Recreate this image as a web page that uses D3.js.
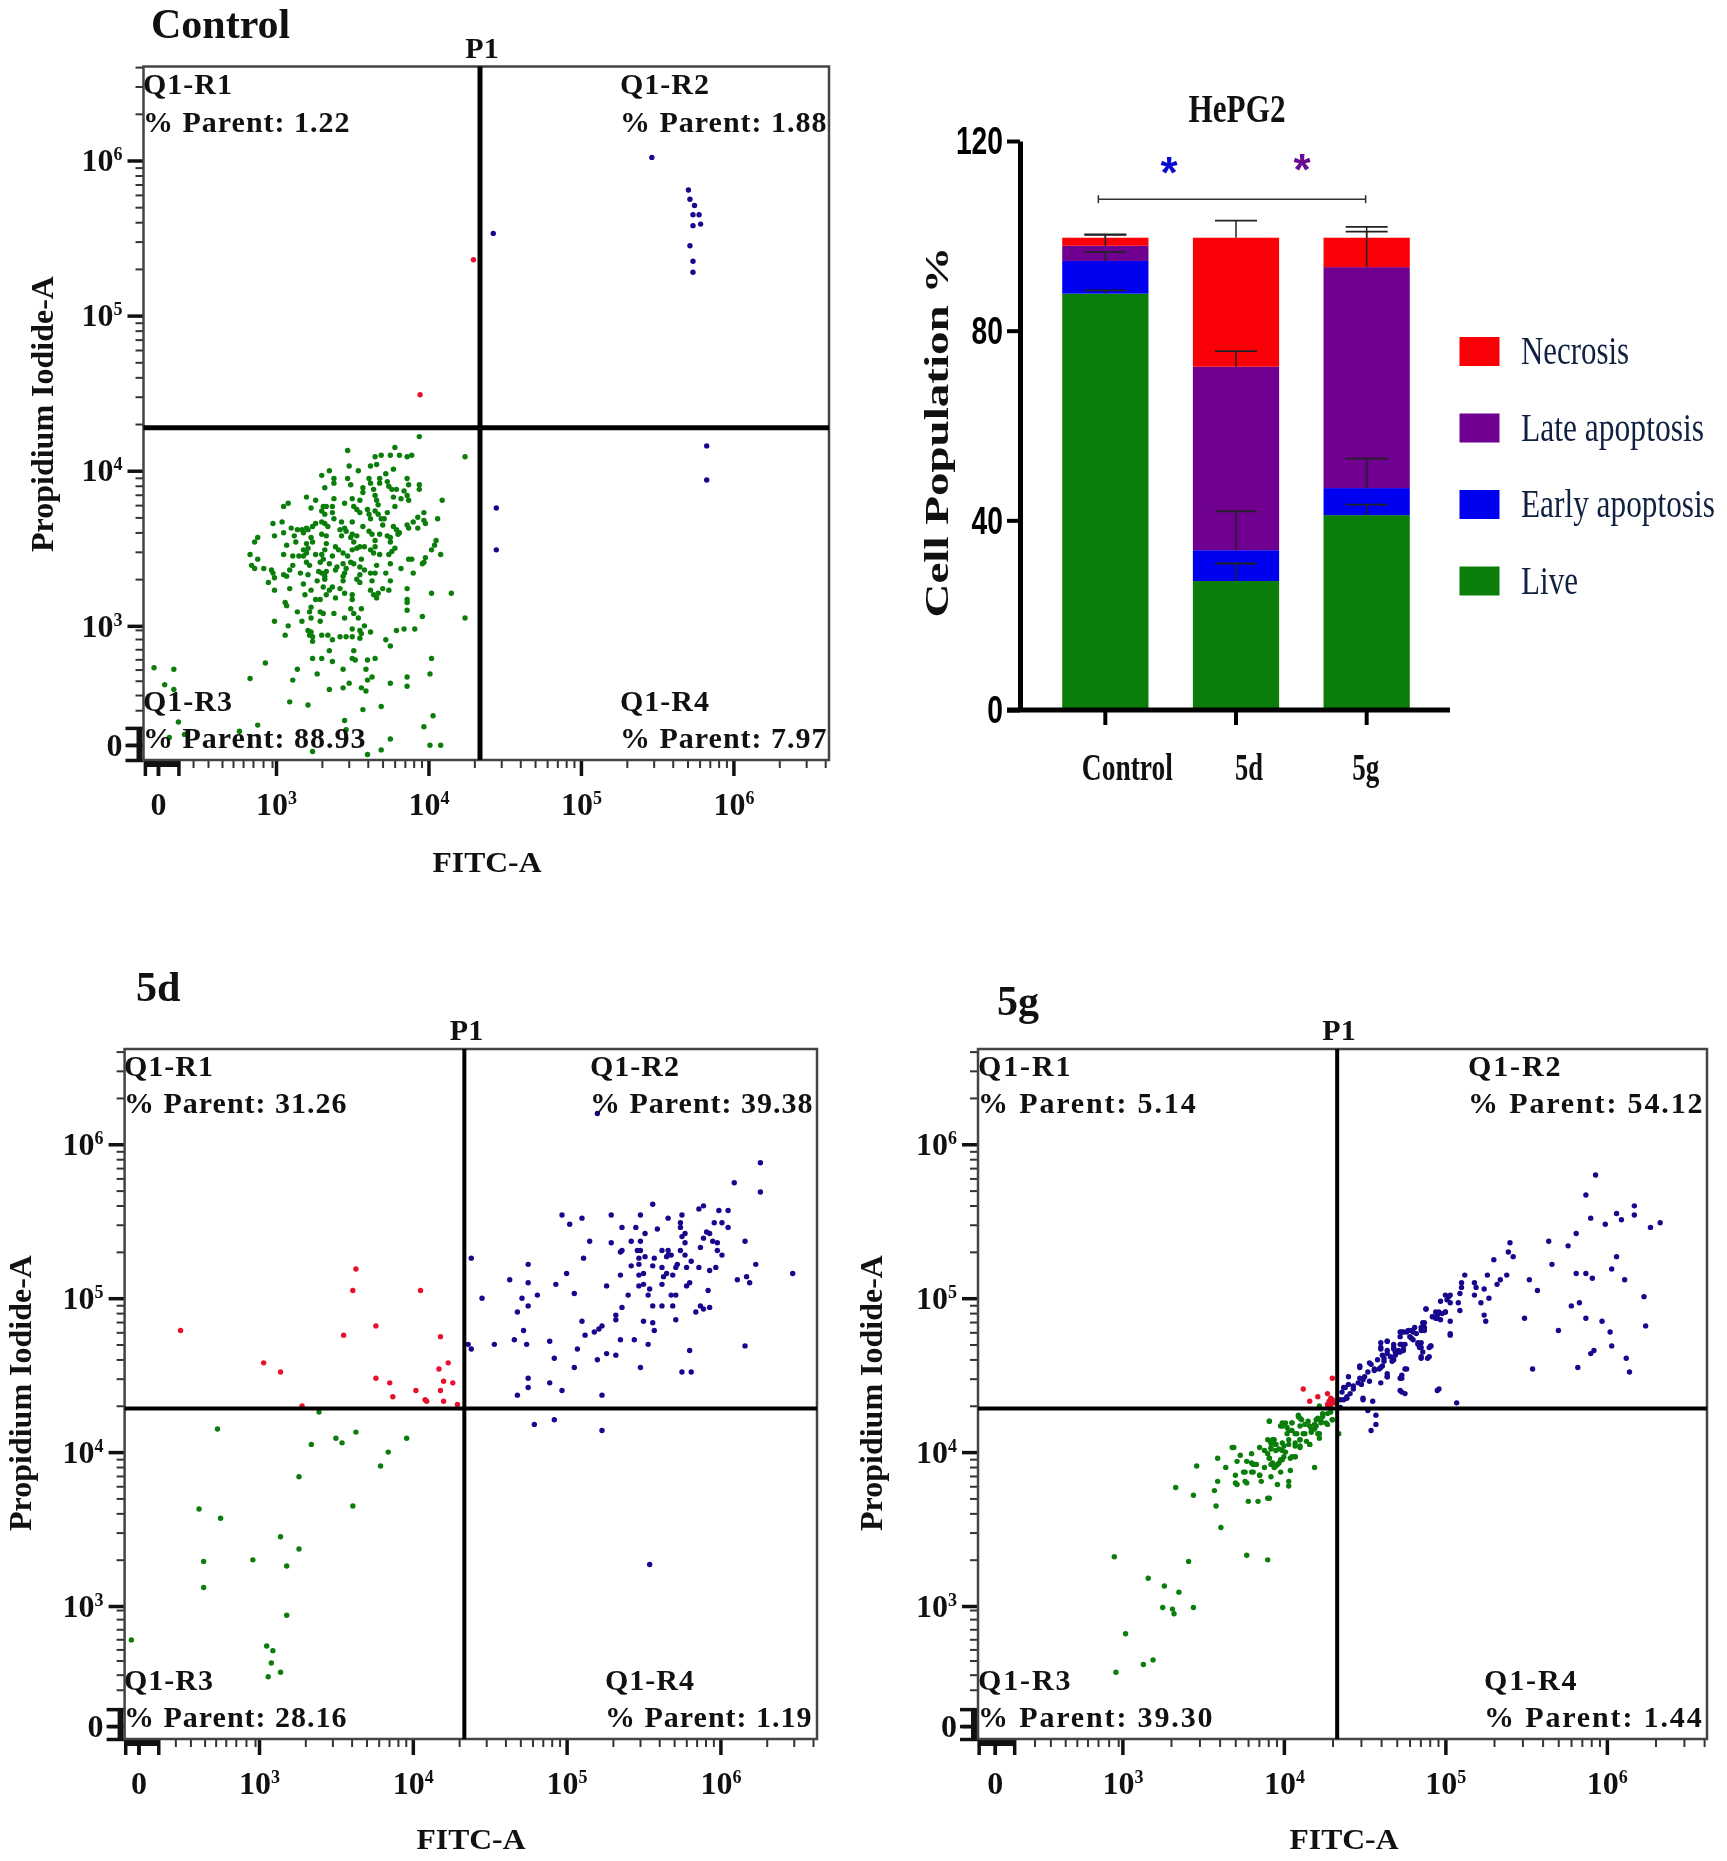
<!DOCTYPE html>
<html>
<head>
<meta charset="utf-8">
<script src="https://cdnjs.cloudflare.com/ajax/libs/d3/7.8.5/d3.min.js"></script>
<style>
	body {margin:0; background:white;}
	svg {filter:blur(0.5px);}
	text {font-family:"Liberation Serif",serif; font-weight:bold; fill:#111;}
</style>
</head>
<body>
<div id="chart"></div>
<script>

// Data: flow cytometry events, [FITC-A, Propidium Iodide-A], in decades on the biexponential axes (3 = 10^3)

var controlLive = [[3.94,4.22],[4.24,4.09],[3.47,4.13],[3.78,4.15],[3.69,4.10],[3.65,4.09],[3.75,4.10],[3.81,4.10],[3.86,4.09],[3.89,4.10],
	[3.48,4.03],[3.62,4.03],[3.66,4.04],[3.77,4.01],[3.72,3.98],[3.54,4.00],[3.35,4.00],[3.30,3.97],
	[3.38,3.95],[3.38,3.92],[3.47,3.95],[3.49,3.91],[3.61,3.95],[3.62,3.92],[3.68,3.95],[3.68,3.92],[3.73,3.93],[3.74,3.90],[3.76,3.88],[3.86,3.95],[3.87,3.91],[3.94,3.91],[3.94,3.88],[3.32,3.89],
	[3.57,3.89],[3.57,3.86],[3.64,3.88],[3.65,3.84],[3.66,3.81],[3.67,3.78],[3.79,3.88],[3.84,3.87],[3.86,3.84],[3.77,3.83],[3.82,3.82],[3.87,3.81],[3.20,3.83],[4.09,3.81],[3.26,3.81],[3.38,3.82],[3.45,3.79],[3.50,3.82],[3.55,3.81],
	[3.08,3.79],[3.05,3.77],[3.23,3.76],[3.31,3.77],[3.33,3.77],[3.37,3.77],[3.30,3.74],[3.32,3.72],[3.37,3.73],[3.38,3.69],[3.51,3.77],[3.53,3.75],[3.55,3.73],[3.60,3.75],[3.61,3.72],[3.62,3.69],[3.65,3.74],[3.67,3.72],[3.69,3.69],[3.73,3.73],[3.71,3.69],[3.70,3.65],[3.78,3.77],[3.97,3.73],[3.97,3.68],[3.93,3.70],[4.06,3.69],
	[3.04,3.67],[2.98,3.66],[3.30,3.67],[3.26,3.66],[3.24,3.64],[3.32,3.66],[3.34,3.64],[3.43,3.67],[3.50,3.67],[3.45,3.63],[3.57,3.64],[3.86,3.65],[3.90,3.67],[3.93,3.63],[3.98,3.66],[3.77,3.64],[3.79,3.62],[3.81,3.60],[3.87,3.63],
	[3.05,3.60],[2.99,3.58],[3.10,3.63],[3.14,3.62],[3.17,3.62],[3.20,3.63],[3.12,3.58],[3.13,3.54],[3.18,3.60],[3.21,3.62],[3.23,3.57],[3.30,3.59],[3.33,3.58],[3.42,3.62],[3.46,3.61],[3.50,3.59],[3.53,3.58],[3.43,3.58],[3.49,3.57],[3.61,3.61],[3.63,3.59],[3.68,3.59],[3.73,3.58],[3.75,3.57],[3.80,3.59],
	[2.88,3.57],[2.86,3.54],[3.07,3.52],[3.20,3.53],[3.21,3.50],[3.18,3.49],[3.24,3.54],[3.33,3.53],[3.32,3.49],[3.39,3.51],[3.41,3.49],[3.51,3.54],[3.55,3.51],[3.58,3.51],[3.62,3.49],[3.65,3.51],[3.65,3.55],[3.75,3.54],[3.78,3.50],[3.76,3.48],[3.74,3.46],[4.05,3.55],[4.04,3.52],[4.02,3.49],
	[2.83,3.46],[3.05,3.46],[3.11,3.45],[3.15,3.45],[3.18,3.45],[3.20,3.47],[3.26,3.46],[3.30,3.46],[3.37,3.45],[3.31,3.43],[3.44,3.47],[3.47,3.45],[3.50,3.49],[3.53,3.50],[3.64,3.47],[3.68,3.46],[3.87,3.43],[3.89,3.43],[4.08,3.46],[3.98,3.44],[3.97,3.41],[3.96,3.40],
	[2.88,3.43],[2.84,3.39],[2.86,3.37],[2.92,3.37],[2.97,3.36],[2.98,3.34],[2.99,3.31],[3.05,3.33],[3.07,3.32],[3.11,3.39],[3.09,3.36],[3.16,3.34],[3.20,3.41],[3.22,3.39],[3.29,3.41],[3.35,3.40],[3.40,3.38],[3.39,3.36],[3.49,3.41],[3.51,3.40],[3.44,3.40],[3.56,3.43],[3.55,3.38],[3.58,3.36],[3.62,3.34],[3.65,3.34],[3.66,3.39],[3.75,3.40],[3.82,3.37],[3.90,3.34],[3.72,3.34],
	[3.21,3.33],[3.28,3.35],[3.30,3.34],[3.33,3.35],[3.32,3.32],[3.32,3.30],[3.46,3.37],[3.44,3.32],[3.55,3.33],[3.45,3.34],[2.95,3.28],
	[2.99,3.23],[3.09,3.24],[3.18,3.27],[3.19,3.20],[3.23,3.23],[3.27,3.29],[3.31,3.25],[3.37,3.25],[3.35,3.23],[3.33,3.20],[3.44,3.29],[3.42,3.24],[3.45,3.21],[3.50,3.20],[3.50,3.17],[3.39,3.18],[3.55,3.28],[3.53,3.30],[3.63,3.29],[3.62,3.23],[3.64,3.20],[3.67,3.21],[3.66,3.18],[3.70,3.24],[3.74,3.23],[3.75,3.29],[3.86,3.24],[3.86,3.17],[3.86,3.10],[3.86,3.15],[4.02,3.21],[4.15,3.21],
	[3.06,3.15],[3.07,3.13],[3.26,3.17],[3.29,3.17],[3.23,3.12],[3.22,3.09],[3.14,3.09],[3.29,3.09],[3.31,3.08],[3.38,3.08],[3.49,3.11],[3.51,3.08],[3.56,3.11],[3.54,3.05],[3.45,3.05],[3.17,3.03],[3.23,3.05],[3.29,3.03],[2.99,3.03],[3.08,3.00],[3.96,3.06],[4.24,3.05],
	[3.55,2.97],[3.58,3.00],[3.62,2.96],[3.56,2.95],[3.55,2.92],[3.46,2.93],[3.50,2.93],[3.42,2.93],[3.50,2.98],[3.21,2.97],[3.23,2.96],[3.22,2.94],[3.24,2.93],[3.30,2.94],[3.34,2.94],[3.37,2.91],[3.24,2.90],[3.06,2.94],[3.79,2.97],[3.84,2.98],[3.91,2.98],[3.72,2.91],[3.75,2.87],
	[3.35,2.84],[3.51,2.84],[3.50,2.79],[3.52,2.78],[3.24,2.79],[3.30,2.79],[3.37,2.77],[3.60,2.78],[3.65,2.79],[4.02,2.79],
	[3.14,2.72],[2.93,2.76],[2.83,2.66],[3.11,2.65],[3.27,2.69],[3.44,2.72],[3.59,2.72],[3.63,2.67],[3.60,2.65],[4.01,2.69],[3.86,2.67],[3.86,2.61],[3.75,2.63],[3.48,2.63],[3.44,2.60],[3.35,2.59],[3.56,2.60],[3.59,2.58],
	[3.09,2.51],[3.21,2.49],[3.57,2.46],[3.69,2.48],[4.03,2.42],[3.45,2.39],[3.97,2.35],[2.88,2.36],[3.46,2.33],[3.75,2.27],[4.01,2.23],[4.08,2.23],[3.60,2.17],[3.69,2.20],[3.24,2.19],
	[2.20,2.73],[2.33,2.72],[2.27,2.62],[2.33,2.59],[2.36,2.38],[2.40,2.30],[2.30,2.28],[2.76,2.32]];

var controlNecrotic = [[4.295,5.36],[3.945,4.49]];

var controlApoptotic = [[5.465,6.02],[4.425,5.53],[5.705,5.81],[5.715,5.75],[5.745,5.71],[5.735,5.65],[5.775,5.65],[5.785,5.59],[5.735,5.58],[5.715,5.45],[5.735,5.35],[5.735,5.28],
	[5.825,4.16],[5.825,3.94],[4.445,3.76],[4.445,3.49]];

var d5Live = [[3.39,4.26],[2.73,4.15],[3.63,4.13],[3.50,4.09],[3.54,4.06],[3.34,4.05],[3.96,4.09],[3.84,4.00],[3.79,3.91],[3.26,3.84],[3.61,3.65],[2.61,3.63],[2.75,3.57],
	[3.14,3.45],[3.26,3.37],[2.96,3.30],[2.64,3.29],[3.18,3.26],[2.64,3.12],[3.18,2.94],[2.17,2.78],[3.05,2.74],[3.09,2.71],[3.08,2.63],[3.14,2.57],[3.06,2.54]];

var d5Necrotic = [[3.63,5.19],[3.61,5.05],[4.05,5.05],[2.49,4.79],[3.76,4.82],[3.55,4.76],[4.18,4.75],[3.03,4.58],[3.14,4.52],[4.23,4.58],[4.17,4.54],[3.76,4.48],
	[3.85,4.45],[4.20,4.46],[4.26,4.45],[4.02,4.40],[4.18,4.40],[3.87,4.36],[4.08,4.34],[4.09,4.33],[4.20,4.33],[4.29,4.31],[3.28,4.30]];

var d5Apoptotic = [[6.26,5.88],[6.09,5.75],[6.26,5.69],[5.56,5.61],[5.86,5.58],[5.89,5.60],[5.99,5.57],[6.05,5.57],[4.97,5.54],[5.10,5.52],[5.29,5.54],[5.48,5.54],[5.66,5.52],[5.75,5.54],
	[5.02,5.48],[5.36,5.46],[5.45,5.46],[5.74,5.49],[5.74,5.46],[5.96,5.49],[6.01,5.49],[6.05,5.46],[5.59,5.45],[5.51,5.42],[5.77,5.42],[5.75,5.40],[5.91,5.43],[5.93,5.42],[5.89,5.39],
	[5.15,5.37],[5.42,5.37],[5.48,5.37],[5.29,5.36],[6.16,5.37],[5.95,5.37],[5.98,5.36],[5.77,5.36],[5.87,5.33],[5.98,5.31],[6.01,5.28],[5.36,5.31],[5.35,5.30],[5.46,5.31],[5.48,5.31],
	[5.62,5.31],[5.66,5.31],[5.74,5.31],[5.66,5.28],[5.68,5.28],[5.65,5.27],[5.77,5.28],[5.51,5.27],[5.57,5.26],[5.47,5.26],[5.47,5.22],[5.11,5.26],[4.38,5.26],[4.75,5.22],[5.81,5.24],
	[6.23,5.22],[5.42,5.21],[5.56,5.21],[5.62,5.20],[5.72,5.22],[5.71,5.20],[5.78,5.20],[5.86,5.20],[5.97,5.20],[5.93,5.18],[5.00,5.16],[5.35,5.15],[5.50,5.16],[5.47,5.15],[5.65,5.16],
	[5.69,5.15],[5.63,5.14],[6.47,5.16],[6.11,5.12],[6.17,5.14],[6.19,5.10],[4.63,5.12],[4.75,5.10],[4.93,5.09],[5.26,5.08],[5.62,5.09],[5.50,5.09],[5.47,5.08],[5.80,5.10],[5.78,5.08],
	[5.54,5.06],[5.92,5.05],[5.05,5.03],[4.81,5.02],[4.45,5.00],[4.71,5.00],[5.40,5.02],[5.53,5.02],[5.68,5.02],[5.71,5.02],[4.75,4.95],[5.36,4.94],[5.56,4.95],[5.62,4.95],[5.69,4.95],
	[5.87,4.95],[5.93,4.94],[5.89,4.93],[4.68,4.91],[5.84,4.91],[5.32,4.89],[5.32,4.86],[5.71,4.86],[5.10,4.85],[5.50,4.85],[5.56,4.84],[5.23,4.82],[5.21,4.80],[5.57,4.79],[4.72,4.79],
	[5.18,4.78],[5.12,4.76],[4.66,4.73],[5.35,4.73],[5.44,4.73],[4.89,4.72],[4.53,4.70],[4.74,4.70],[5.53,4.70],[4.36,4.70],[4.38,4.67],[6.16,4.69],[5.07,4.67],[5.80,4.66],[5.26,4.64],
	[5.32,4.63],[4.92,4.61],[5.20,4.60],[5.05,4.55],[5.48,4.55],[5.75,4.52],[5.81,4.52],[4.75,4.48],[4.89,4.45],[4.75,4.42],[4.97,4.40],[4.68,4.37],[5.23,4.37],[4.79,4.18],[4.92,4.21],
	[5.23,4.14],[5.54,3.27],[5.20,6.20]];

var g5Live = [[4.22,4.30],[4.09,4.23],[3.91,4.20],[3.99,4.19],[4.05,4.19],[4.11,4.21],[3.98,4.17],[4.02,4.16],[4.10,4.17],[4.16,4.17],[4.20,4.21],[4.24,4.25],[4.29,4.26],[4.30,4.21],
	[4.26,4.19],[4.23,4.20],[4.19,4.18],[4.22,4.12],[4.34,4.12],[4.05,4.14],[4.08,4.12],[4.12,4.12],[4.17,4.13],[4.19,4.15],[4.03,4.08],[4.10,4.08],[4.14,4.07],[4.07,4.04],[4.10,4.03],
	[4.16,4.05],[3.94,4.08],[3.90,4.08],[3.92,4.06],[3.95,4.05],[3.99,4.06],[3.85,4.03],[3.68,4.03],[3.92,4.02],[3.88,4.01],[3.91,3.96],[3.95,4.01],[3.99,4.01],[4.04,3.96],[4.07,3.97],
	[4.01,4.00],[3.80,3.99],[3.73,3.98],[3.71,3.94],[3.59,3.96],[3.77,3.94],[3.80,3.93],[3.83,3.92],[3.88,3.90],[3.92,3.92],[3.96,3.92],[3.99,3.95],[3.94,3.90],[3.98,3.87],[4.04,3.88],
	[4.19,3.90],[3.46,3.91],[3.64,3.90],[3.75,3.87],[3.80,3.87],[3.70,3.85],[3.85,3.85],[3.92,3.84],[3.59,3.81],[3.70,3.80],[3.76,3.81],[3.86,3.81],[4.03,3.81],[4.03,3.78],[3.57,3.75],
	[3.71,3.79],[3.44,3.72],[3.58,3.65],[3.61,3.51],[3.78,3.68],[3.84,3.68],[3.90,3.70],[3.77,3.80],[3.96,3.79],[3.33,3.77],[3.77,3.33],[3.90,3.30],[2.95,3.32],[3.41,3.29],[3.16,3.18],
	[3.26,3.13],[3.35,3.09],[3.25,2.99],[3.31,2.98],[3.32,2.95],[3.44,2.99],[3.02,2.82],[3.19,2.65],[3.13,2.62],[2.96,2.57],
	[4.27,4.25],[4.24,4.23],[4.21,4.22],[4.30,4.21],[4.27,4.18],[4.23,4.19],[4.20,4.17],[4.17,4.15],[4.15,4.20],[4.13,4.18],[4.10,4.22],[4.09,4.24],[4.05,4.19],[4.01,4.19],[3.99,4.17],
	[4.03,4.14],[4.02,4.12],[4.07,4.12],[4.13,4.12],[4.17,4.13],[4.21,4.12],[4.22,4.09],[4.10,4.08],[4.07,4.06],[4.03,4.05],[4.00,4.04],[4.10,4.04],[4.16,4.05],[3.97,4.02],[3.93,4.08],
	[3.92,4.06],[3.95,4.05],[3.92,4.03],[3.90,3.99],[3.91,3.96],[3.93,3.93],[3.95,3.91],[3.98,3.95],[4.00,3.97],[4.05,3.97],[4.07,3.97],[3.97,3.93],[3.81,3.92],[3.82,3.92],[3.85,3.85],
	[3.91,3.70],[3.91,4.20],[3.69,4.03],[3.76,3.87],[3.81,3.87]];

var g5Necrotic = [[4.12,4.41],[4.30,4.48],[4.21,4.36],[4.16,4.33],[4.27,4.38],[4.29,4.35],[4.28,4.33],[4.30,4.34],[4.27,4.31],[4.29,4.31],[4.31,4.32]];

var g5Apoptotic = [[5.93,5.80],[5.87,5.67],[5.90,5.52],[5.99,5.48],[6.06,5.55],[6.09,5.51],[6.17,5.60],[6.17,5.54],[6.27,5.46],[6.33,5.49],[5.81,5.42],[5.64,5.37],[5.76,5.34],[5.40,5.36],
	[5.39,5.30],[5.42,5.27],[5.30,5.25],[5.66,5.22],[6.06,5.27],[6.03,5.19],[5.81,5.16],[5.87,5.16],[5.91,5.13],[6.11,5.12],[5.52,5.12],[5.57,5.05],[5.12,5.15],[5.26,5.15],[5.38,5.15],
	[5.34,5.12],[5.32,5.09],[5.10,5.10],[5.10,5.07],[5.18,5.10],[5.19,5.07],[5.24,5.06],[5.09,5.03],[5.18,5.02],[5.27,5.00],[5.22,4.97],[5.08,4.97],[5.00,5.02],[5.02,5.01],[5.01,4.99],
	[5.03,5.02],[4.97,4.98],[5.03,4.97],[6.23,5.01],[5.78,4.95],[5.83,4.97],[5.09,4.92],[5.24,4.89],[5.25,4.85],[5.00,4.91],[4.88,4.93],[5.03,4.85],[5.49,4.87],[5.87,4.87],[5.97,4.85],
	[6.24,4.82],[5.70,4.79],[6.02,4.78],[5.03,4.76],[6.03,4.69],[5.92,4.66],[5.90,4.64],[6.12,4.61],[5.82,4.55],[6.14,4.52],[5.54,4.54],[4.95,4.89],[4.92,4.88],[4.97,4.86],[4.94,4.87],
	[4.96,4.91],[4.98,4.90],[4.86,4.84],[4.87,4.81],[4.85,4.79],[4.80,4.78],[4.77,4.79],[4.74,4.78],[4.78,4.75],[4.80,4.73],[4.72,4.75],[4.91,4.69],[4.85,4.71],[4.85,4.68],[4.86,4.65],
	[4.85,4.61],[4.89,4.61],[4.76,4.54],[4.73,4.48],[4.64,4.49],[4.64,4.72],[4.73,4.70],[4.74,4.67],[4.71,4.65],[4.68,4.68],[4.69,4.63],[4.66,4.62],[4.67,4.59],[4.64,4.66],[4.61,4.63],
	[4.62,4.59],[4.60,4.68],[4.61,4.56],[4.72,4.78],[4.64,4.72],[4.60,4.71],[4.60,4.67],[4.68,4.67],[4.71,4.66],[4.64,4.64],[4.68,4.60],[4.62,4.61],[4.58,4.60],[4.54,4.57],[4.47,4.56],
	[4.47,4.55],[4.60,4.55],[4.56,4.54],[4.52,4.52],[4.50,4.49],[4.64,4.49],[4.40,4.49],[4.49,4.47],[4.46,4.45],[4.40,4.44],[4.60,4.45],[4.43,4.41],[4.37,4.42],[4.36,4.39],[4.41,4.38],
	[4.39,4.35],[4.35,4.34],[4.49,4.35],[4.55,4.33],[4.72,4.48],[4.72,4.40],[4.52,4.27],[4.57,4.24],[4.57,4.18],[4.54,4.14],[4.35,4.29],[4.95,4.40],[5.07,4.32],[4.73,4.39],[4.75,4.38],
	[4.83,4.70],[4.90,4.68],[4.85,4.62],[4.90,4.62],[4.75,4.54],[4.73,4.50],[4.64,4.51],
	[4.88,4.93],[4.94,4.91],[4.92,4.88],[4.95,4.87],[5.00,4.91],[5.03,4.77],[4.87,4.84],[4.85,4.81],[4.81,4.81],[4.79,4.79],[4.73,4.78],[4.76,4.78],[4.82,4.77],[4.79,4.74],[4.87,4.79],
	[4.83,4.71],[4.84,4.68],[4.91,4.69],[4.68,4.70],[4.72,4.70],[4.75,4.70],[4.74,4.66],[4.69,4.65],[4.72,4.65],[4.59,4.54],[4.53,4.58],[4.56,4.53],[4.47,4.48],[4.48,4.44],[4.43,4.43],
	[4.38,4.42],[4.39,4.36],[4.37,4.34],[4.53,4.46],[4.49,4.34],[4.96,4.41]];

var controlPct = ["1.22","1.88","88.93","7.97"];
var d5Pct = ["31.26","39.38","28.16","1.19"];
var g5Pct = ["5.14","54.12","39.30","1.44"];

// Data: stacked bars

var categories = ["Control","5d","5g"];
var seriesNames = ["Live","Early apoptosis","Late apoptosis","Necrosis"];
var liveValues = [87.8,27.2,41.1];
var earlyValues = [6.9,6.5,5.7];
var lateValues = [3.2,38.7,46.6];
var necrosisValues = [1.7,27.2,6.2];
var liveErrors = [0.7,3.7,2.2];
var earlyErrors = [1.9,8.2,6.2];
var lateErrors = [2.3,3.3,7.5];
var necrosisErrors = [0.7,3.6,2.3];
var yTicks = [0,40,80,120];
var sigValue = 107.7;

// Colours

var green = "#0a7d0a", navy = "#17078c", red = "#e8102c";

var svg = d3.select("#chart").append("svg")
	.attr("width",1727)
	.attr("height",1861)
	.style("display","block");

// Flow panels

var lowTicks = [2.456,2.554,2.646,2.718,2.784,2.849,2.915,2.974];
var majorTicks = [3,4,5,6];

function minorTicks(max){
	let t = lowTicks.slice();
	majorTicks.forEach(function(dec){
		d3.range(2,10).forEach(function(m){
			let v = dec+Math.log10(m);
			if (v<max) {t.push(v)}
		});
	});
	return t;
}

function decadeLabel(sel){
	sel.selectAll("text").text(null).each(function(d){
		let t = d3.select(this);
		if (d<3) {t.text("0"); return;}
		t.append("tspan").text("10");
		t.append("tspan").attr("dy",-11).style("font-size","18px").text(d);
	});
}

function flowPanel(p){

	let x = d3.scaleLinear().domain(p.xDomain).range([p.left,p.right]);
	let y = d3.scaleLinear().domain(p.yDomain).range([p.bottom,p.top]);
	let g = svg.append("g");

	// ticks

	let xBase = g.append("g").attr("transform","translate(0,"+p.bottom+")");
	let yBase = g.append("g").attr("transform","translate("+p.left+",0)");

	xBase.append("g").call(d3.axisBottom(x).tickValues(minorTicks(p.xDomain[1])).tickSize(8).tickFormat(""))
		.call(function(a){a.select(".domain").remove(); a.selectAll("line").style("stroke","#333").style("stroke-width",2)});
	yBase.append("g").call(d3.axisLeft(y).tickValues(minorTicks(p.yDomain[1])).tickSize(8).tickFormat(""))
		.call(function(a){a.select(".domain").remove(); a.selectAll("line").style("stroke","#333").style("stroke-width",2)});

	xBase.append("g").call(d3.axisBottom(x).tickValues(majorTicks.concat([p.xZero])).tickSize(16).tickPadding(16))
		.call(function(a){
			a.select(".domain").remove();
			a.selectAll("line").style("stroke","#111").style("stroke-width",3.5);
			a.selectAll("text").style("font-size","32px").style("font-family","Liberation Serif").style("font-weight","bold").style("fill","#111");
			a.selectAll(".tick").call(decadeLabel);
		});
	yBase.append("g").call(d3.axisLeft(y).tickValues(majorTicks.concat([p.yZero])).tickSize(16).tickPadding(5))
		.call(function(a){
			a.select(".domain").remove();
			a.selectAll("line").style("stroke","#111").style("stroke-width",3.5);
			a.selectAll("text").style("font-size","32px").style("font-family","Liberation Serif").style("font-weight","bold").style("fill","#111");
			a.selectAll(".tick").call(decadeLabel);
		});

	// the cramped part of the axes around zero
	xBase.append("g").call(d3.axisBottom(x).tickValues(p.xZeroBand).tickSize(16).tickFormat(""))
		.call(function(a){a.select(".domain").remove(); a.selectAll("line").style("stroke","#111").style("stroke-width",3.5)});
	yBase.append("g").call(d3.axisLeft(y).tickValues(p.yZeroBand).tickSize(18).tickFormat(""))
		.call(function(a){a.select(".domain").remove(); a.selectAll("line").style("stroke","#111").style("stroke-width",3.5)});
	g.append("line").attr("x1",x(p.xZeroBand[0])).attr("x2",x(p.xZeroBand[2]))
		.attr("y1",p.bottom+4).attr("y2",p.bottom+4).style("stroke","#111").style("stroke-width",6);
	g.append("line").attr("y1",y(p.yZeroBand[0])).attr("y2",y(p.yZeroBand[2]))
		.attr("x1",p.left-4).attr("x2",p.left-4).style("stroke","#111").style("stroke-width",6);

	// dots

	[[p.live,green],[p.necrotic,red],[p.apoptotic,navy]].forEach(function(s){
		g.append("g").selectAll("circle").data(s[0]).enter().append("circle")
			.attr("r",2.7)
			.attr("cx",function(d){return x(d[0])})
			.attr("cy",function(d){return y(d[1])})
			.style("fill",s[1]);
	});

	// frame and gate

	g.append("rect").attr("x",p.left).attr("y",p.top).attr("width",p.right-p.left).attr("height",p.bottom-p.top)
		.style("fill","none").style("stroke","#444").style("stroke-width",2.5);
	g.append("line").attr("x1",x(p.xGate)).attr("x2",x(p.xGate)).attr("y1",p.top).attr("y2",p.bottom)
		.style("stroke","#000").style("stroke-width",p.gateWidth);
	g.append("line").attr("x1",p.left).attr("x2",p.right).attr("y1",y(p.yGate)).attr("y2",y(p.yGate))
		.style("stroke","#000").style("stroke-width",p.gateWidth);

	// text

	g.append("text").attr("x",p.titleX).attr("y",p.titleY).style("font-size","42px").text(p.title);
	g.append("text").attr("x",p.p1X).attr("y",p.p1Y).attr("text-anchor","middle").style("font-size","30px").text("P1");
	g.append("text").attr("x",p.fitcX).attr("y",p.fitcY).attr("text-anchor","middle").style("font-size","30px")
		.attr("textLength",109).attr("lengthAdjust","spacingAndGlyphs").text("FITC-A");
	g.append("text").attr("transform","translate("+p.piX+","+p.piY+")rotate(-90)").attr("text-anchor","middle").style("font-size","31px")
		.attr("textLength",276).attr("lengthAdjust","spacingAndGlyphs").text("Propidium Iodide-A");

	[["Q1-R1",p.textLeft,p.rows[0],p.rows[1]],["Q1-R2",p.textR2,p.rows[0],p.rows[1]],
	 ["Q1-R3",p.textLeft,p.rows[2],p.rows[3]],["Q1-R4",p.textR4,p.rows[2],p.rows[3]]].forEach(function(r,i){
		g.append("text").attr("x",r[1]).attr("y",r[2]).style("font-size","30px").style("letter-spacing",p.textSpacing).text(r[0]);
		g.append("text").attr("x",r[1]).attr("y",r[3]).style("font-size","30px").style("letter-spacing",p.textSpacing).text("% Parent: "+p.pct[i]);
	});
}

flowPanel({title:"Control",titleX:151,titleY:38,
	left:143.5,right:829,top:66.5,bottom:760,
	xDomain:[2.131,6.627],yDomain:[2.135,6.606],xGate:4.338,yGate:4.277,xZero:2.226,yZero:2.232,
	xZeroBand:[2.14,2.226,2.36],yZeroBand:[2.135,2.232,2.342],gateWidth:5,
	p1X:482,p1Y:58,fitcX:487,fitcY:872,piX:53,piY:414,
	textLeft:143,textR2:620,textR4:620,rows:[94,132,711,748],textSpacing:"1px",
	live:controlLive,necrotic:controlNecrotic,apoptotic:controlApoptotic,pct:controlPct});

flowPanel({title:"5d",titleX:136,titleY:1001,
	left:124.6,right:817,top:1049,bottom:1739,
	xDomain:[2.126,6.628],yDomain:[2.136,6.619],xGate:4.335,yGate:4.284,xZero:2.216,yZero:2.22,
	xZeroBand:[2.13,2.216,2.345],yZeroBand:[2.136,2.22,2.33],gateWidth:4,
	p1X:466.5,p1Y:1040,fitcX:471,fitcY:1849,piX:31,piY:1393,
	textLeft:124,textR2:590,textR4:605,rows:[1076,1113,1690,1727],textSpacing:"1px",
	live:d5Live,necrotic:d5Necrotic,apoptotic:d5Apoptotic,pct:d5Pct});

flowPanel({title:"5g",titleX:997,titleY:1015,
	left:978,right:1707,top:1049,bottom:1739,
	xDomain:[2.106,6.62],yDomain:[2.136,6.619],xGate:4.33,yGate:4.284,xZero:2.21,yZero:2.22,
	xZeroBand:[2.11,2.21,2.33],yZeroBand:[2.136,2.22,2.33],gateWidth:4,
	p1X:1339,p1Y:1040,fitcX:1344,fitcY:1849,piX:882,piY:1393,
	textLeft:978,textR2:1468,textR4:1484,rows:[1076,1113,1690,1727],textSpacing:"1.85px",
	live:g5Live,necrotic:g5Necrotic,apoptotic:g5Apoptotic,pct:g5Pct});

// Bar chart

var X = d3.scaleBand().domain(categories).range([1040,1432]).paddingInner(0.34).paddingOuter(0.17);
var Y = d3.scaleLinear().domain([0,120]).range([710,141]);
var C = d3.scaleOrdinal().domain(seriesNames).range([green,"#0000f0","#700090","#fb0006"]);

var rows = categories.map(function(c,i){
	return {cat:c,"Live":liveValues[i],"Early apoptosis":earlyValues[i],"Late apoptosis":lateValues[i],"Necrosis":necrosisValues[i],
		errs:[liveErrors[i],earlyErrors[i],lateErrors[i],necrosisErrors[i]]};
});
var stacked = d3.stack().keys(seriesNames)(rows);

var bars = svg.append("g");

stacked.forEach(function(s){
	bars.append("g").selectAll("rect").data(s).enter().append("rect")
		.attr("x",function(d){return X(d.data.cat)})
		.attr("y",function(d){return Y(d[1])})
		.attr("width",X.bandwidth())
		.attr("height",function(d){return Y(d[0])-Y(d[1])})
		.style("fill",C(s.key));
});

// error bars sit on top of each stack segment

stacked.forEach(function(s,k){
	s.forEach(function(d){
		let cx = X(d.data.cat)+X.bandwidth()/2;
		let top = Y(d[1]+d.data.errs[k]);
		bars.append("line").attr("x1",cx).attr("x2",cx).attr("y1",Y(d[1])).attr("y2",top)
			.style("stroke","#222").style("stroke-width",1.5);
		bars.append("line").attr("x1",cx-21).attr("x2",cx+21).attr("y1",top).attr("y2",top)
			.style("stroke","#222").style("stroke-width",1.8);
	});
});

// axes

var yAxis = svg.append("g").attr("transform","translate(1020,0)")
	.call(d3.axisLeft(Y).tickValues(yTicks).tickSize(13).tickPadding(4).tickSizeOuter(0))
	.call(function(a){
		a.select(".domain").style("stroke","#000").style("stroke-width",5);
		a.selectAll("line").style("stroke","#000").style("stroke-width",4);
		a.selectAll("text").style("font-size","38px").style("font-family","Liberation Serif")
			.attr("dy","0.34em")
			.attr("textLength",function(d){return String(d).length*15.7})
			.attr("lengthAdjust","spacingAndGlyphs")
			.style("font-family","Liberation Sans").style("font-weight","bold").style("fill","#000");
	});

svg.append("line").attr("x1",1007).attr("x2",1450).attr("y1",Y(0)).attr("y2",Y(0))
	.style("stroke","#000").style("stroke-width",5);

var xAxis = svg.append("g").attr("transform","translate(0,"+Y(0)+")")
	.call(d3.axisBottom(X).tickSize(15).tickFormat(""))
	.call(function(a){
		a.select(".domain").remove();
		a.selectAll("line").style("stroke","#000").style("stroke-width",4);
	});

var catLabelShift = [22,13,-1];
var catLabelWidth = [91,28,27];

svg.append("g").selectAll("text").data(categories).enter().append("text")
	.attr("x",function(d,i){return X(d)+X.bandwidth()/2+catLabelShift[i]})
	.attr("y",780)
	.attr("text-anchor","middle")
	.attr("textLength",function(d,i){return catLabelWidth[i]})
	.attr("lengthAdjust","spacingAndGlyphs")
	.style("font-size","37px")
	.text(function(d){return d});

svg.append("text").attr("x",1237).attr("y",122).attr("text-anchor","middle")
	.attr("textLength",97).attr("lengthAdjust","spacingAndGlyphs").style("font-size","40px").text("HePG2");

svg.append("text").attr("transform","translate(948,432)rotate(-90)").attr("text-anchor","middle")
	.attr("textLength",371).attr("lengthAdjust","spacingAndGlyphs").style("font-size","33px").text("Cell Population %");

// significance bracket and stars

var sigLeft = X(categories[0])+X.bandwidth()/2-7;
var sigRight = X(categories[2])+X.bandwidth()/2-1;
svg.append("path")
	.attr("d","M"+sigLeft+","+(Y(sigValue)-4)+"V"+(Y(sigValue)+4)+"M"+sigLeft+","+Y(sigValue)+"H"+sigRight+"M"+sigRight+","+(Y(sigValue)-4)+"V"+(Y(sigValue)+4))
	.style("stroke","#333").style("stroke-width",1.5).style("fill","none");

svg.append("text").attr("x",1169).attr("y",188).attr("text-anchor","middle").style("font-family","Liberation Sans").style("font-size","44px").style("fill","#0a0ad0").text("*");
svg.append("text").attr("x",1302).attr("y",185).attr("text-anchor","middle").style("font-family","Liberation Sans").style("font-size","44px").style("fill","#6a0a90").text("*");

// legend

var legendOrder = seriesNames.slice().reverse();
var legendBottom = [366,442.5,519,595.5];
var legendWidth = [108,183,194,57];

var legend = svg.append("g").selectAll("g").data(legendOrder).enter().append("g");
legend.append("rect").attr("x",1459.5).attr("y",function(d,i){return legendBottom[i]-29}).attr("width",40).attr("height",29)
	.style("fill",function(d){return C(d)});
legend.append("text")
	.style("font-size","40px").style("font-weight","normal").style("fill","#102040")
	.text(function(d){return d})
	.attr("transform",function(d,i){
		return "translate(1521,"+(legendBottom[i]-2)+")scale("+(legendWidth[i]/this.getComputedTextLength())+",1)";
	});

</script>
</body>
</html>
